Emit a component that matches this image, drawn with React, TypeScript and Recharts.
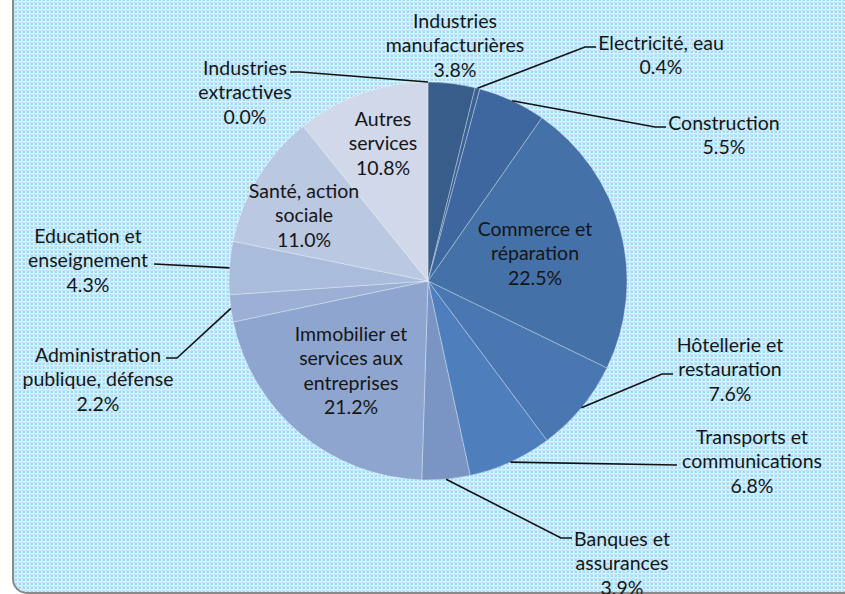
import React from 'react';
import { PieChart, Pie, Cell } from 'recharts';

// ---- Data ----
const categories: string[] = [
  'Industries\nmanufacturières',
  'Electricité, eau',
  'Construction',
  'Commerce et\nréparation',
  'Hôtellerie et\nrestauration',
  'Transports et\ncommunications',
  'Banques et\nassurances',
  'Immobilier et\nservices aux\nentreprises',
  'Administration\npublique, défense',
  'Education et\nenseignement',
  'Santé, action\nsociale',
  'Autres\nservices',
  'Industries\nextractives',
];
const shares: number[] = [3.8, 0.4, 5.5, 22.5, 7.6, 6.8, 3.9, 21.2, 2.2, 4.3, 11.0, 10.8, 0.0];

const data = categories.map((name, i) => ({ name, value: shares[i] }));

// ---- Styles / layout ----
const COLORS = [
  '#385d8a', '#3b6295', '#3f679f', '#4571a9', '#4977b1', '#4e7fbc',
  '#7a95c3', '#8ea6cf', '#9bb0d4', '#aabcdc', '#bbc8e2', '#d0d8ea', '#dfe5f1',
];

type Layout = { x: number; y: number; leader?: [number, number][] };
const LABEL_LAYOUT: Layout[] = [
  { x: 455, y: 20 },
  { x: 661, y: 42, leader: [[585, 47], [596, 47]] },
  { x: 724, y: 122, leader: [[655, 127], [666, 127]] },
  { x: 535, y: 228 },
  { x: 730, y: 344, leader: [[662, 374], [673, 374]] },
  { x: 752, y: 436, leader: [[677, 465]] },
  { x: 622, y: 538, leader: [[561, 538], [572, 538]] },
  { x: 351, y: 333 },
  { x: 98, y: 354, leader: [[177, 358], [166, 358]] },
  { x: 88, y: 235, leader: [[154, 264]] },
  { x: 304, y: 190 },
  { x: 383, y: 118 },
  { x: 245, y: 67, leader: [[300, 72], [290, 72]] },
];

const RAD = Math.PI / 180;
const LINE_H = 24.5;
const FONT = 'Lato, "Liberation Sans", sans-serif';

const renderLabel = (props: any) => {
  const { cx, cy, midAngle, outerRadius, index, value, name } = props;
  const lay = LABEL_LAYOUT[index];
  if (!lay) return null;
  const lines = String(name).split('\n');
  lines.push(Number(value).toFixed(1) + '%');
  let path: React.ReactNode = null;
  if (lay.leader) {
    const sx = cx + outerRadius * Math.cos(-midAngle * RAD);
    const sy = cy + outerRadius * Math.sin(-midAngle * RAD);
    const d = `M${sx},${sy}` + lay.leader.map((p) => ` L${p[0]},${p[1]}`).join('');
    path = <path d={d} stroke="#111" strokeWidth={1.6} fill="none" />;
  }
  return (
    <g key={`lbl-${index}`}>
      {path}
      {lines.map((t, i) => (
        <text
          key={i}
          x={lay.x}
          y={lay.y + i * LINE_H}
          textAnchor="middle"
          dominantBaseline="central"
          fontFamily={FONT}
          fontSize={19.5}
          fill="#151515"
        >
          {t}
        </text>
      ))}
    </g>
  );
};

export default function App() {
  return (
    <div style={{ position: 'fixed', left: 0, top: 0, width: 845, height: 594, overflow: 'hidden', background: '#fff' }}>
      <div
        style={{
          position: 'absolute',
          left: 12,
          top: -10,
          width: 900,
          height: 604,
          boxSizing: 'border-box',
          borderLeft: '2px solid #8a8a8a',
          borderBottom: '2px solid #8a8a8a',
          borderBottomLeftRadius: 15,
          backgroundColor: '#e2f5fc',
          backgroundImage:
            'radial-gradient(circle at 2px 2px, rgba(150,215,242,0.9) 1px, transparent 1.6px), linear-gradient(90deg, rgba(175,225,245,0.55) 1px, transparent 1px), linear-gradient(rgba(175,225,245,0.55) 1px, transparent 1px)',
          backgroundSize: '4px 4px, 4px 4px, 4px 4px',
        }}
      />
      <div style={{ position: 'absolute', left: 0, top: 0 }}>
        <PieChart width={845} height={594} margin={{ top: 0, right: 0, bottom: 0, left: 0 }}>
          <Pie
            data={data}
            dataKey="value"
            nameKey="name"
            cx={428}
            cy={281}
            outerRadius={199}
            startAngle={90}
            endAngle={-270}
            stroke="rgba(255,255,255,0.3)"
            strokeWidth={1}
            label={renderLabel}
            labelLine={false}
            isAnimationActive={false}
          >
            {data.map((d, i) => (
              <Cell key={d.name} fill={COLORS[i]} />
            ))}
          </Pie>
        </PieChart>
      </div>
    </div>
  );
}
